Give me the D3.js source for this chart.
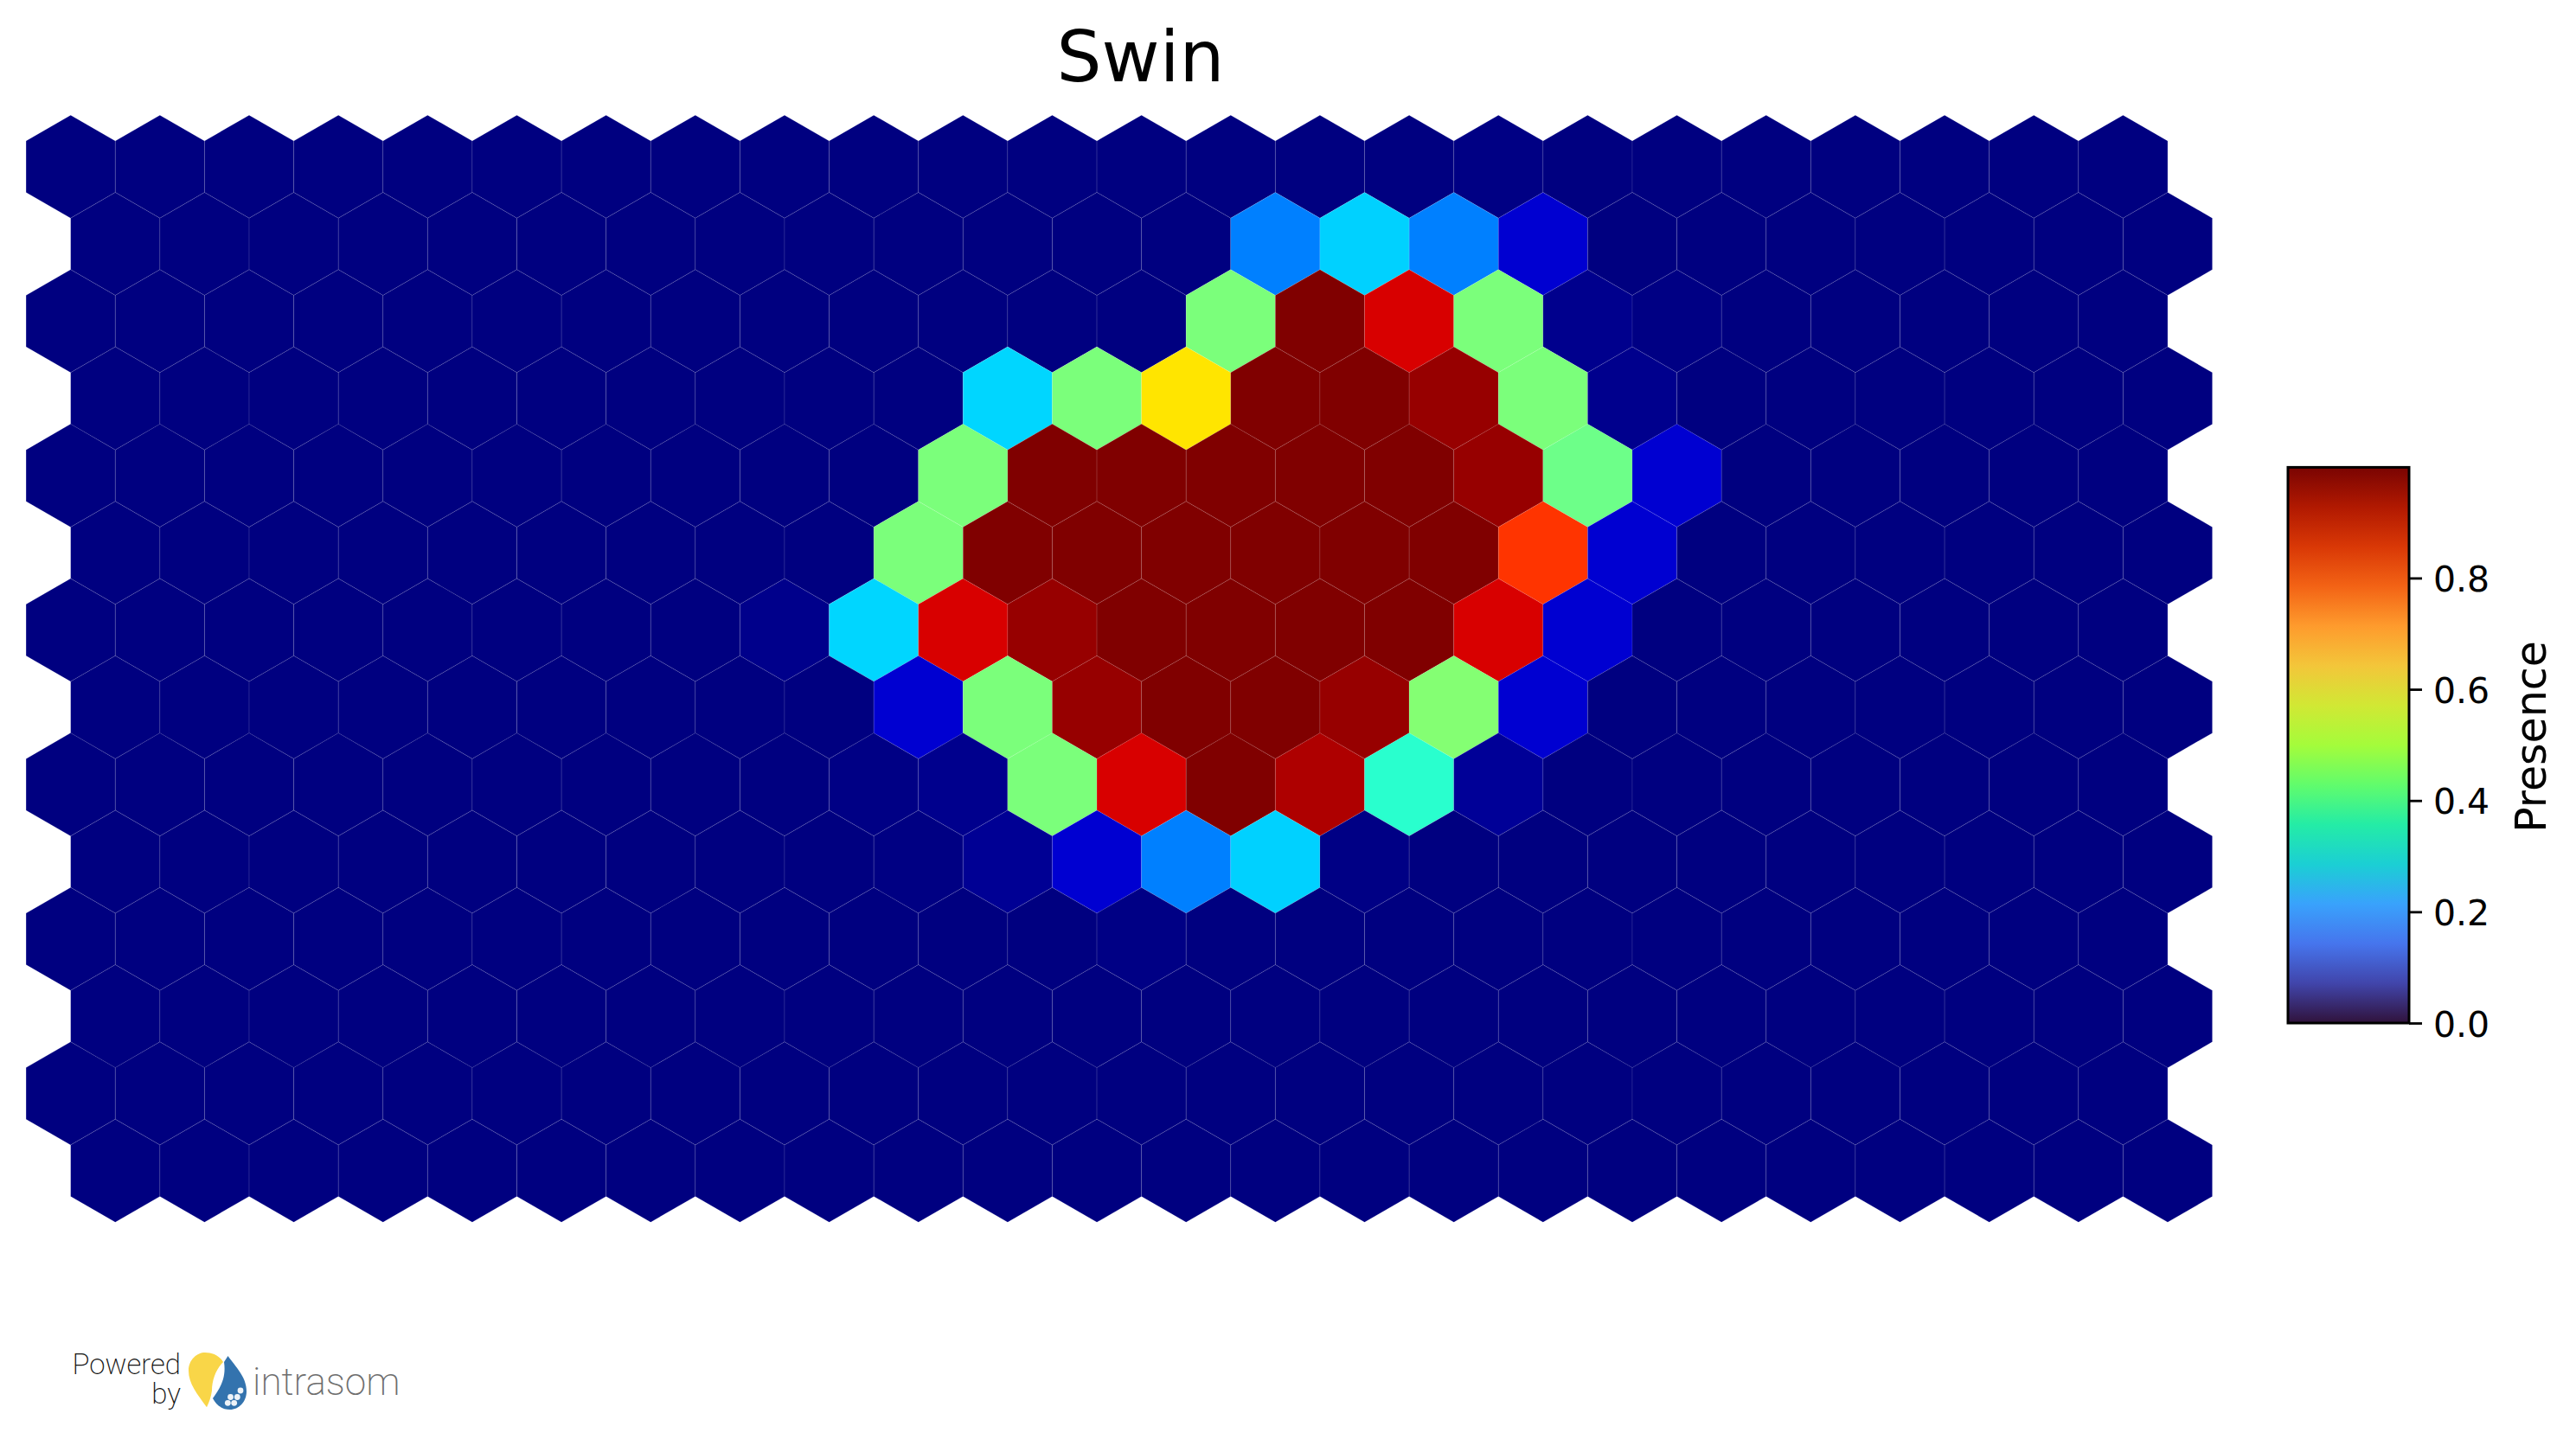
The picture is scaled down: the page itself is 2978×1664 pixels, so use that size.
<!DOCTYPE html>
<html>
<head>
<meta charset="utf-8">
<script src="https://cdn.jsdelivr.net/npm/d3@7"></script>
<style>
    html, body { margin: 0; padding: 0; background: #fff; }
    svg { display: block; }
</style>
</head>
<body>
<div id="chart"></div>
<script>
const width = 2978;
const height = 1664;

const title = "Swin";
const colorbarLabel = "Presence";
const colorbarTicks = [0, 0.2, 0.4, 0.6, 0.8];
const colorbarMax = 0.999;

// one row per line of the hex map, 24 neurons each
const row0  = [0,0,0,0,0,0,0,0,0,0,0,0,0,0,0,0,0.004,0,0,0,0,0,0,0];
const row1  = [0,0,0,0,0,0,0,0,0,0,0,0,0,0.25,0.33,0.25,0.07,0,0,0,0,0,0,0];
const row2  = [0,0,0,0,0,0,0,0,0,0,0,0,0,0.5,1,0.924,0.5,0.012,0.004,0,0,0,0,0];
const row3  = [0,0,0,0,0,0,0,0,0,0,0.335,0.5,0.667,1,1,0.98,0.5,0.012,0,0,0,0,0,0];
const row4  = [0,0,0,0,0,0,0,0,0,0,0.5,1,1,1,1,1,0.98,0.483,0.07,0,0,0,0,0];
const row5  = [0,0,0,0,0,0,0,0,0,0.5,1,1,1,1,1,1,0.855,0.07,0,0,0,0,0,0];
const row6  = [0,0,0,0,0,0,0,0,0.01,0.335,0.924,0.98,1,1,1,1,0.924,0.07,0,0,0,0,0,0];
const row7  = [0,0,0,0,0,0,0,0,0,0.07,0.5,0.98,1,1,0.98,0.51,0.07,0,0,0,0,0,0,0];
const row8  = [0,0,0,0,0,0,0,0,0,0.005,0.012,0.5,0.924,1,0.96,0.4,0.02,0,0,0,0,0,0,0];
const row9  = [0,0,0,0,0,0,0,0,0,0.003,0.018,0.07,0.25,0.33,0.005,0,0,0,0,0,0,0,0,0];
const row10 = [0,0,0,0,0,0,0,0,0,0,0,0,0.005,0,0,0,0,0,0,0,0,0,0,0];
const row11 = [0,0,0,0,0,0,0,0,0,0,0,0,0,0,0,0,0,0,0,0,0,0,0,0];
const row12 = [0,0,0,0,0,0,0,0,0,0,0,0,0,0,0,0,0,0,0,0,0,0,0,0];
const row13 = [0,0,0,0,0,0,0,0,0,0,0,0,0,0,0,0,0,0,0,0,0,0,0,0];
const rows = [row0, row1, row2, row3, row4, row5, row6, row7, row8, row9, row10, row11, row12, row13];

// colormap anchor colours
const turboStops = ["#30123b","#4145ab","#4675ed","#39a2fc","#1bcfd4","#24eca6","#61fc6c","#a4fc3b","#d1e834","#f3c63a","#fe9b2d","#f36315","#d93806","#b11901","#7a0402"];

// the hexes use jet (the colorbar beside them is turbo), same segments as matplotlib
const jetR = d3.scaleLinear().domain([0, 0.35, 0.66, 0.89, 1]).range([0, 0, 1, 1, 0.5]);
const jetG = d3.scaleLinear().domain([0, 0.125, 0.375, 0.64, 0.91, 1]).range([0, 0, 1, 1, 0, 0]);
const jetB = d3.scaleLinear().domain([0, 0.11, 0.34, 0.65, 1]).range([0.5, 1, 1, 0, 0]);
const jet = v => d3.rgb(jetR(v) * 255, jetG(v) * 255, jetB(v) * 255).formatRgb();

const svg = d3.select("#chart").append("svg").attr("width", width).attr("height", height);

// hex grid
const hexW = 103.16;
const hexR = hexW / Math.sqrt(3);
const xScale = d3.scaleLinear().domain([0, 23]).range([81.7, 81.7 + 23 * hexW]);
const yScale = d3.scaleLinear().domain([0, 13]).range([192.7, 1353.7]);

const hexLine = d3.line();
const hexCorners = d3.range(6).map(i => {
    const a = Math.PI / 3 * i - Math.PI / 2;
    return [hexR * Math.cos(a), hexR * Math.sin(a)];
});
const hexPath = hexLine(hexCorners) + "Z";

const cells = rows.flatMap((row, r) => row.map((v, c) => ({ r, c, v })));

svg.append("g")
    .selectAll("path")
    .data(cells)
    .join("path")
    .attr("transform", d => `translate(${xScale(d.c + (d.r % 2) / 2)},${yScale(d.r)})`)
    .attr("d", hexPath)
    .attr("fill", d => jet(d.v))
    .attr("stroke", "#fff")
    .attr("stroke-opacity", 0.1)
    .attr("stroke-width", 1);

svg.append("text")
    .attr("x", 1318.5)
    .attr("y", 94)
    .attr("text-anchor", "middle")
    .attr("font-family", "DejaVu Sans")
    .attr("font-size", 82)
    .text(title);

// colorbar
const barX = 2645;
const barW = 140;
const cbScale = d3.scaleLinear().domain([0, colorbarMax]).range([1183, 540.4]);

const grad = svg.append("defs").append("linearGradient")
    .attr("id", "turbo")
    .attr("x1", 0).attr("x2", 0).attr("y1", 1).attr("y2", 0);
grad.selectAll("stop")
    .data(turboStops)
    .join("stop")
    .attr("offset", (d, i) => i / (turboStops.length - 1))
    .attr("stop-color", d => d);

svg.append("rect")
    .attr("x", barX)
    .attr("y", cbScale(colorbarMax))
    .attr("width", barW)
    .attr("height", cbScale(0) - cbScale(colorbarMax))
    .attr("fill", "url(#turbo)")
    .attr("stroke", "#000")
    .attr("stroke-width", 3);

const cbAxis = d3.axisRight(cbScale)
    .tickValues(colorbarTicks)
    .tickSize(15)
    .tickPadding(13)
    .tickFormat(d3.format(".1f"));

const cbG = svg.append("g")
    .attr("transform", `translate(${barX + barW},0)`)
    .call(cbAxis);
cbG.select(".domain").remove();
cbG.selectAll("line").attr("stroke", "#000").attr("stroke-width", 2.8);
cbG.selectAll("text")
    .attr("font-family", "DejaVu Sans")
    .attr("font-size", 41)
    .attr("dy", "0.37em")
    .attr("fill", "#000");

svg.append("text")
    .attr("transform", "translate(2943,852) rotate(-90)")
    .attr("text-anchor", "middle")
    .attr("font-family", "DejaVu Sans")
    .attr("font-size", 49)
    .text(colorbarLabel);

// logo bottom left
const logo = svg.append("g");
logo.append("text")
    .attr("x", 209).attr("y", 1589)
    .attr("text-anchor", "end")
    .attr("font-family", "Roboto").attr("font-weight", 200)
    .attr("font-size", 33).attr("fill", "#111")
    .text("Powered");
logo.append("text")
    .attr("x", 209).attr("y", 1623)
    .attr("text-anchor", "end")
    .attr("font-family", "Roboto").attr("font-weight", 200)
    .attr("font-size", 33).attr("fill", "#111")
    .text("by");
logo.append("path")
    .attr("d", "M239 1627.3C228 1612 218 1600 218 1585C218 1572 228 1564 237 1564C246 1564 254 1568 258 1575C250 1583 245 1595 245 1608C244 1615 242 1621 239 1627.3Z")
    .attr("fill", "#f9d648");
logo.append("path")
    .attr("d", "M263.5 1568C272 1580 285 1592 285 1609C285 1621 276 1630 266 1630C257 1630 250 1625 246 1617C253 1607 262 1595 259 1575Z")
    .attr("fill", "#3373ae");
logo.append("g").selectAll("circle")
    .data([[278, 1608], [266.5, 1615.5], [274.3, 1615.5], [263.3, 1622.3], [270.7, 1622.3]])
    .join("circle")
    .attr("cx", d => d[0]).attr("cy", d => d[1]).attr("r", 3.4)
    .attr("fill", "#eef3f8");
logo.append("text")
    .attr("x", 292).attr("y", 1613)
    .attr("font-family", "Roboto").attr("font-weight", 200)
    .attr("font-size", 44).attr("fill", "#6e6e6e")
    .text("intrasom");
</script>
</body>
</html>
